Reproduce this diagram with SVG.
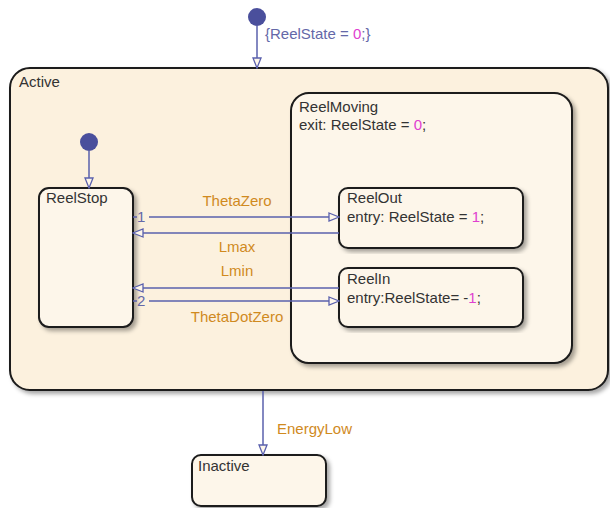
<svg xmlns="http://www.w3.org/2000/svg" width="610" height="508" viewBox="0 0 610 508">
<defs>
<filter id="sh" x="-10%" y="-10%" width="120%" height="120%">
<feDropShadow dx="3" dy="3" stdDeviation="2" flood-color="#000" flood-opacity="0.35"/>
</filter>
<marker id="arr" viewBox="0 0 12 10" refX="11" refY="5" markerWidth="12" markerHeight="10" markerUnits="userSpaceOnUse" orient="auto">
<path d="M1,1 L11,5 L1,9 Z" fill="#fdf6ea" stroke="#5a60ad" stroke-width="1.3"/>
</marker>
</defs>
<style>
.st{fill:#fcf1de;stroke:#1a1a1a;stroke-width:2;filter:url(#sh)}
.inner{fill:#fdf6ea}
.t{font-family:"Liberation Sans",Arial,sans-serif;font-size:15px;fill:#333}
.lb{font-family:"Liberation Sans",Arial,sans-serif;font-size:15px;fill:#d08a1e}
.dl{font-family:"Liberation Sans",Arial,sans-serif;font-size:15px;fill:#6468a8}
.n{fill:#e040d0}
.c{stroke:#5a60ad;stroke-width:1.5;fill:none;marker-end:url(#arr)}
.dot{fill:#4a4f9c}
</style>
<rect width="610" height="508" fill="#fff"/>
<g id="Active">
<rect class="st" x="10" y="68" width="598" height="322" rx="20"/>
<text class="t" x="19" y="87">Active</text>
</g>
<g id="ReelMoving">
<rect class="st inner" x="291" y="93" width="281" height="270" rx="18"/>
<text class="t" x="299" y="112">ReelMoving</text>
<text class="t" x="299" y="130">exit: ReelState = <tspan class="n">0</tspan>;</text>
</g>
<g id="ReelStop">
<rect class="st inner" x="39" y="188" width="94" height="139" rx="10"/>
<text class="t" x="46" y="203">ReelStop</text>
</g>
<g id="ReelOut">
<rect class="st inner" x="339" y="188" width="184" height="60" rx="9"/>
<text class="t" x="347" y="203">ReelOut</text>
<text class="t" x="347" y="222">entry: ReelState = <tspan class="n">1</tspan>;</text>
</g>
<g id="ReelIn">
<rect class="st inner" x="339" y="268" width="184" height="59" rx="9"/>
<text class="t" x="347" y="284">ReelIn</text>
<text class="t" x="347" y="303">entry:ReelState= -<tspan class="n">1</tspan>;</text>
</g>
<g id="Inactive">
<rect class="st inner" x="192" y="455" width="134" height="51" rx="9"/>
<text class="t" x="198" y="471">Inactive</text>
</g>
<g id="connectors">
<circle class="dot" cx="257" cy="17" r="9"/>
<line class="c" x1="257" y1="26" x2="257" y2="68"/>
<text class="dl" x="265" y="39">{ReelState = <tspan class="n">0</tspan>;}</text>
<circle class="dot" cx="89" cy="142" r="9"/>
<line class="c" x1="89" y1="151" x2="89" y2="188"/>
<line class="c" x1="149" y1="217" x2="339" y2="217"/>
<text class="dl" x="137" y="222" font-size="13">1</text>
<line x1="133" y1="217" x2="137" y2="217" stroke="#5a60ad" stroke-width="1.5"/>
<text class="lb" x="237" y="206" text-anchor="middle">ThetaZero</text>
<line class="c" x1="339" y1="233" x2="133" y2="233"/>
<text class="lb" x="237" y="252" text-anchor="middle">Lmax</text>
<line class="c" x1="339" y1="288" x2="133" y2="288"/>
<text class="lb" x="237" y="276" text-anchor="middle">Lmin</text>
<line class="c" x1="149" y1="301" x2="339" y2="301"/>
<text class="dl" x="137" y="306" font-size="13">2</text>
<line x1="133" y1="301" x2="137" y2="301" stroke="#5a60ad" stroke-width="1.5"/>
<text class="lb" x="237" y="322" text-anchor="middle">ThetaDotZero</text>
<line class="c" x1="263" y1="391" x2="263" y2="455"/>
<text class="lb" x="277" y="434">EnergyLow</text>
</g>
</svg>
